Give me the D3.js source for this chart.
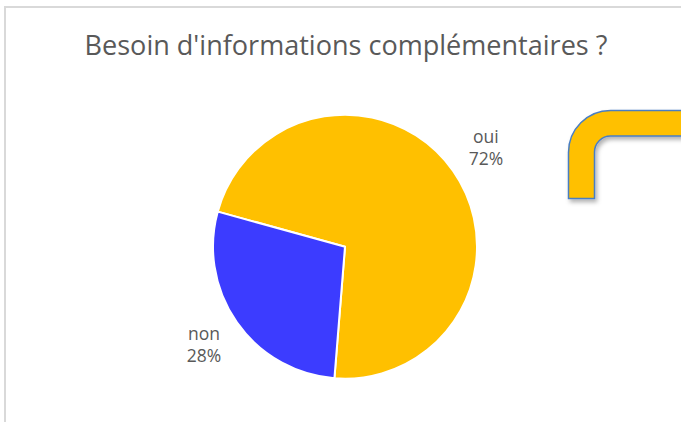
<!DOCTYPE html>
<html>
<head>
<meta charset="utf-8">
<script src="https://cdn.jsdelivr.net/npm/d3@7"></script>
<style>
  html, body { margin: 0; padding: 0; background: #ffffff; }
  svg { display: block; }
</style>
</head>
<body>
<svg id="chart" width="681" height="422"></svg>
<script>
// Survey answers
const categories = ["oui", "non"];
const values = [72, 28];
const colors = ["#FFC000", "#3C3CFF"];
const title = "Besoin d'informations complémentaires ?";

const W = 681, H = 422;
const svg = d3.select("#chart");

// Chart frame (left and top edges visible)
svg.append("line").attr("x1", 5).attr("y1", 7).attr("x2", 5).attr("y2", H)
  .attr("stroke", "#d9d9d9").attr("stroke-width", 2);
svg.append("line").attr("x1", 4).attr("y1", 7).attr("x2", W).attr("y2", 7)
  .attr("stroke", "#d9d9d9").attr("stroke-width", 2);

// Title, sized to span its line
const fontFamily = "'Open Sans', 'Noto Sans', sans-serif";
const t = svg.append("text")
  .attr("x", 346).attr("y", 55)
  .attr("text-anchor", "middle")
  .attr("font-family", fontFamily)
  .attr("font-size", 100)
  .attr("fill", "#595959")
  .text(title);
const w100 = t.node().getComputedTextLength();
t.attr("font-size", 100 * 523 / w100);

// Pie
const cx = 345, cy = 246.7, r = 132;
const startDeg = 285.4;
const pie = d3.pie().sort(null).value(d => d.v)
  .startAngle(startDeg * Math.PI / 180)
  .endAngle((startDeg + 360) * Math.PI / 180);
const data = categories.map((c, i) => ({ c, v: values[i], col: colors[i] }));
const arcs = pie(data);
const arc = d3.arc().innerRadius(0).outerRadius(r);

const g = svg.append("g").attr("transform", `translate(${cx},${cy})`);
g.selectAll("path.slice").data(arcs).enter().append("path")
  .attr("class", "slice")
  .attr("d", arc)
  .attr("fill", d => d.data.col)
  .attr("stroke", "#ffffff")
  .attr("stroke-width", 2)
  .attr("stroke-linejoin", "round");

// Outside labels: category + percentage
const total = d3.sum(values);
const labelR = 172;
const fmt = d3.format(".0%");
arcs.forEach(a => {
  const mid = (a.startAngle + a.endAngle) / 2;
  const lx = cx + labelR * Math.sin(mid);
  const ly = cy - labelR * Math.cos(mid);
  const lt = svg.append("text")
    .attr("text-anchor", "middle")
    .attr("font-family", fontFamily)
    .attr("font-size", 17.5)
    .attr("fill", "#595959");
  lt.append("tspan").attr("x", lx).attr("y", ly - 5).text(a.data.c);
  lt.append("tspan").attr("x", lx).attr("y", ly + 17).text(fmt(a.data.v / total));
});

// Decorative bent connector shape at the right, with soft shadow
const defs = svg.append("defs");
const f = defs.append("filter").attr("id", "shadow")
  .attr("x", "-20%").attr("y", "-20%").attr("width", "140%").attr("height", "140%");
f.append("feDropShadow").attr("dx", 2).attr("dy", 3).attr("stdDeviation", 2)
  .attr("flood-color", "#000000").attr("flood-opacity", 0.3);

const ox = 568.5, oy = 110.5, ix = 594.5, iy = 136, bottom = 198.5, right = W + 10;
const R1 = 42, R2 = 16;
const p = d3.path();
p.moveTo(ox, bottom);
p.lineTo(ox, oy + R1);
p.arcTo(ox, oy, ox + R1, oy, R1);
p.lineTo(right, oy);
p.lineTo(right, iy);
p.lineTo(ix + R2, iy);
p.arcTo(ix, iy, ix, iy + R2, R2);
p.lineTo(ix, bottom);
p.closePath();
svg.append("path")
  .attr("d", p.toString())
  .attr("fill", "#FFC000")
  .attr("stroke", "#4A7EC2")
  .attr("stroke-width", 1.5)
  .attr("filter", "url(#shadow)");
</script>
</body>
</html>
